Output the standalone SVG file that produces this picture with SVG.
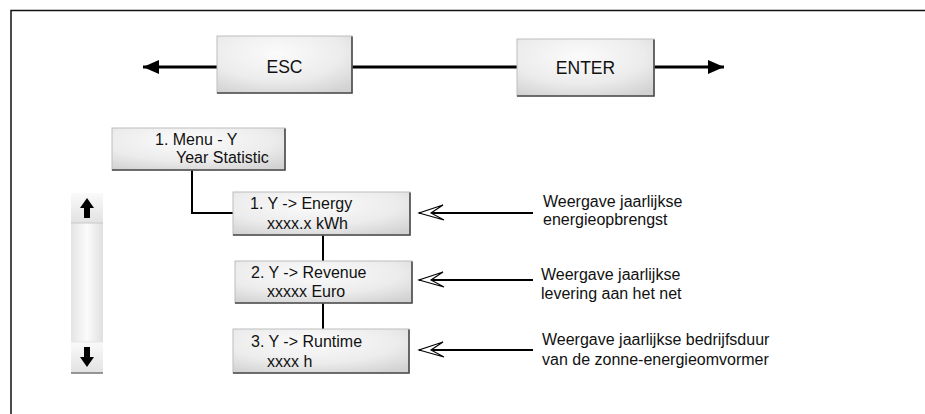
<svg xmlns="http://www.w3.org/2000/svg" width="925" height="414" viewBox="0 0 925 414">
  <defs>
    <radialGradient id="boxGrad" cx="0.45" cy="0.3" r="0.8">
      <stop offset="0" stop-color="#fbfbfb"/>
      <stop offset="0.6" stop-color="#ececec"/>
      <stop offset="1" stop-color="#d2d2d2"/>
    </radialGradient>
    <linearGradient id="barGrad" x1="0" y1="0" x2="1" y2="0">
      <stop offset="0" stop-color="#e4e4e4"/>
      <stop offset="0.5" stop-color="#fbfbfb"/>
      <stop offset="1" stop-color="#e0e0e0"/>
    </linearGradient>
    <linearGradient id="btnGrad" x1="0" y1="0" x2="0" y2="1">
      <stop offset="0" stop-color="#fafafa"/>
      <stop offset="1" stop-color="#e2e2e2"/>
    </linearGradient>
    <marker id="solidHead" markerUnits="userSpaceOnUse" viewBox="-17 -8 18 16" refX="0" refY="0" markerWidth="18" markerHeight="16" orient="auto">
      <path d="M0,0 L-16,-7 L-16,7 Z" fill="#000"/>
    </marker>
    <marker id="openHead" markerUnits="userSpaceOnUse" viewBox="-27 -10 29 20" refX="0" refY="0" markerWidth="29" markerHeight="20" orient="auto">
      <path d="M0,0 L-25,-7 L-12,0 L-24,8 Z" fill="#fff" stroke="#000" stroke-width="1.1" stroke-linejoin="miter"/>
    </marker>
  </defs>
  <style>
    .box { fill: url(#boxGrad); stroke: #bdbdbd; stroke-width: 1; }
    .shadow { fill: none; stroke: #4a4a4a; stroke-width: 1.6; }
    .t { font-family: "Liberation Sans", Arial, sans-serif; font-size: 16px; fill: #111; }
    .big { font-size: 17.5px; }
    .conn { fill: none; stroke: #000; stroke-width: 2; }
    .thick { stroke-width: 3; }
    .frame { fill: none; stroke: #111; stroke-width: 1.5; }
  </style>

  <!-- frame -->
  <path class="frame" d="M925,10.5 H11 V414"/>

  <g id="connectors">
    <line class="conn thick" x1="217" y1="67" x2="143" y2="67" marker-end="url(#solidHead)"/>
    <line class="conn thick" x1="352" y1="67" x2="517" y2="67"/>
    <line class="conn thick" x1="654" y1="67" x2="724" y2="67" marker-end="url(#solidHead)"/>
    <path class="conn" d="M192,170 V213 H233"/>
    <line class="conn" x1="323" y1="235" x2="323" y2="261"/>
    <line class="conn" x1="323" y1="303" x2="323" y2="329"/>
    <line class="conn" x1="533" y1="213" x2="419" y2="213" marker-end="url(#openHead)"/>
    <line class="conn" x1="533" y1="280" x2="419" y2="280" marker-end="url(#openHead)"/>
    <line class="conn" x1="533" y1="350" x2="419" y2="350" marker-end="url(#openHead)"/>
  </g>

  <g id="esc">
    <rect class="box" x="217" y="36" width="135" height="57"/>
    <path class="shadow" d="M352,36.5 V93 H217"/>
    <text class="t big" x="284.5" y="73" text-anchor="middle">ESC</text>
  </g>

  <g id="enter">
    <rect class="box" x="517" y="39" width="137" height="57"/>
    <path class="shadow" d="M654,39.5 V96 H517"/>
    <text class="t big" x="585.5" y="74" text-anchor="middle">ENTER</text>
  </g>

  <g id="menu">
    <rect class="box" x="112" y="128" width="173" height="42"/>
    <path class="shadow" d="M285,128.5 V170 H112"/>
    <text class="t" x="155" y="145">1. Menu - Y</text>
    <text class="t" x="176" y="163">Year Statistic</text>
  </g>

  <g id="energy">
    <rect class="box" x="233" y="192" width="177" height="43"/>
    <path class="shadow" d="M410,192.5 V235 H233"/>
    <text class="t" x="250" y="209">1. Y -&gt; Energy</text>
    <text class="t" x="267" y="229">xxxx.x kWh</text>
  </g>

  <g id="revenue">
    <rect class="box" x="235" y="261" width="177" height="42"/>
    <path class="shadow" d="M412,261.5 V303 H235"/>
    <text class="t" x="251" y="278">2. Y -&gt; Revenue</text>
    <text class="t" x="267" y="297">xxxxx Euro</text>
  </g>

  <g id="runtime">
    <rect class="box" x="233" y="329" width="176" height="44"/>
    <path class="shadow" d="M409,329.5 V373 H233"/>
    <text class="t" x="251" y="347">3. Y -&gt; Runtime</text>
    <text class="t" x="267" y="367">xxxx h</text>
  </g>

  <g id="scrollbar">
    <rect x="71" y="193" width="32" height="180" fill="url(#barGrad)"/>
    <rect x="71" y="193" width="32" height="30" fill="url(#btnGrad)"/>
    <line x1="71" y1="223" x2="103" y2="223" stroke="#c8c8c8" stroke-width="1"/>
    <rect x="71" y="342" width="32" height="31" fill="url(#btnGrad)"/>
    <line x1="71" y1="342" x2="103" y2="342" stroke="#e6e6e6" stroke-width="1"/>
    <line x1="71" y1="373" x2="103" y2="373" stroke="#777" stroke-width="1.5"/>
    <path d="M87,198 L94,208 H90 V218 H84 V208 H80 Z" fill="#000"/>
    <path d="M87,367 L94,357 H90 V347 H84 V357 H80 Z" fill="#000"/>
  </g>

  <g id="desc-energy">
    <text class="t" x="543" y="207">Weergave jaarlijkse</text>
    <text class="t" x="543" y="225">energieopbrengst</text>
  </g>
  <g id="desc-revenue">
    <text class="t" x="541" y="280">Weergave jaarlijkse</text>
    <text class="t" x="541" y="299">levering aan het net</text>
  </g>
  <g id="desc-runtime">
    <text class="t" x="542" y="345">Weergave jaarlijkse bedrijfsduur</text>
    <text class="t" x="542" y="365">van de zonne-energieomvormer</text>
  </g>
</svg>
